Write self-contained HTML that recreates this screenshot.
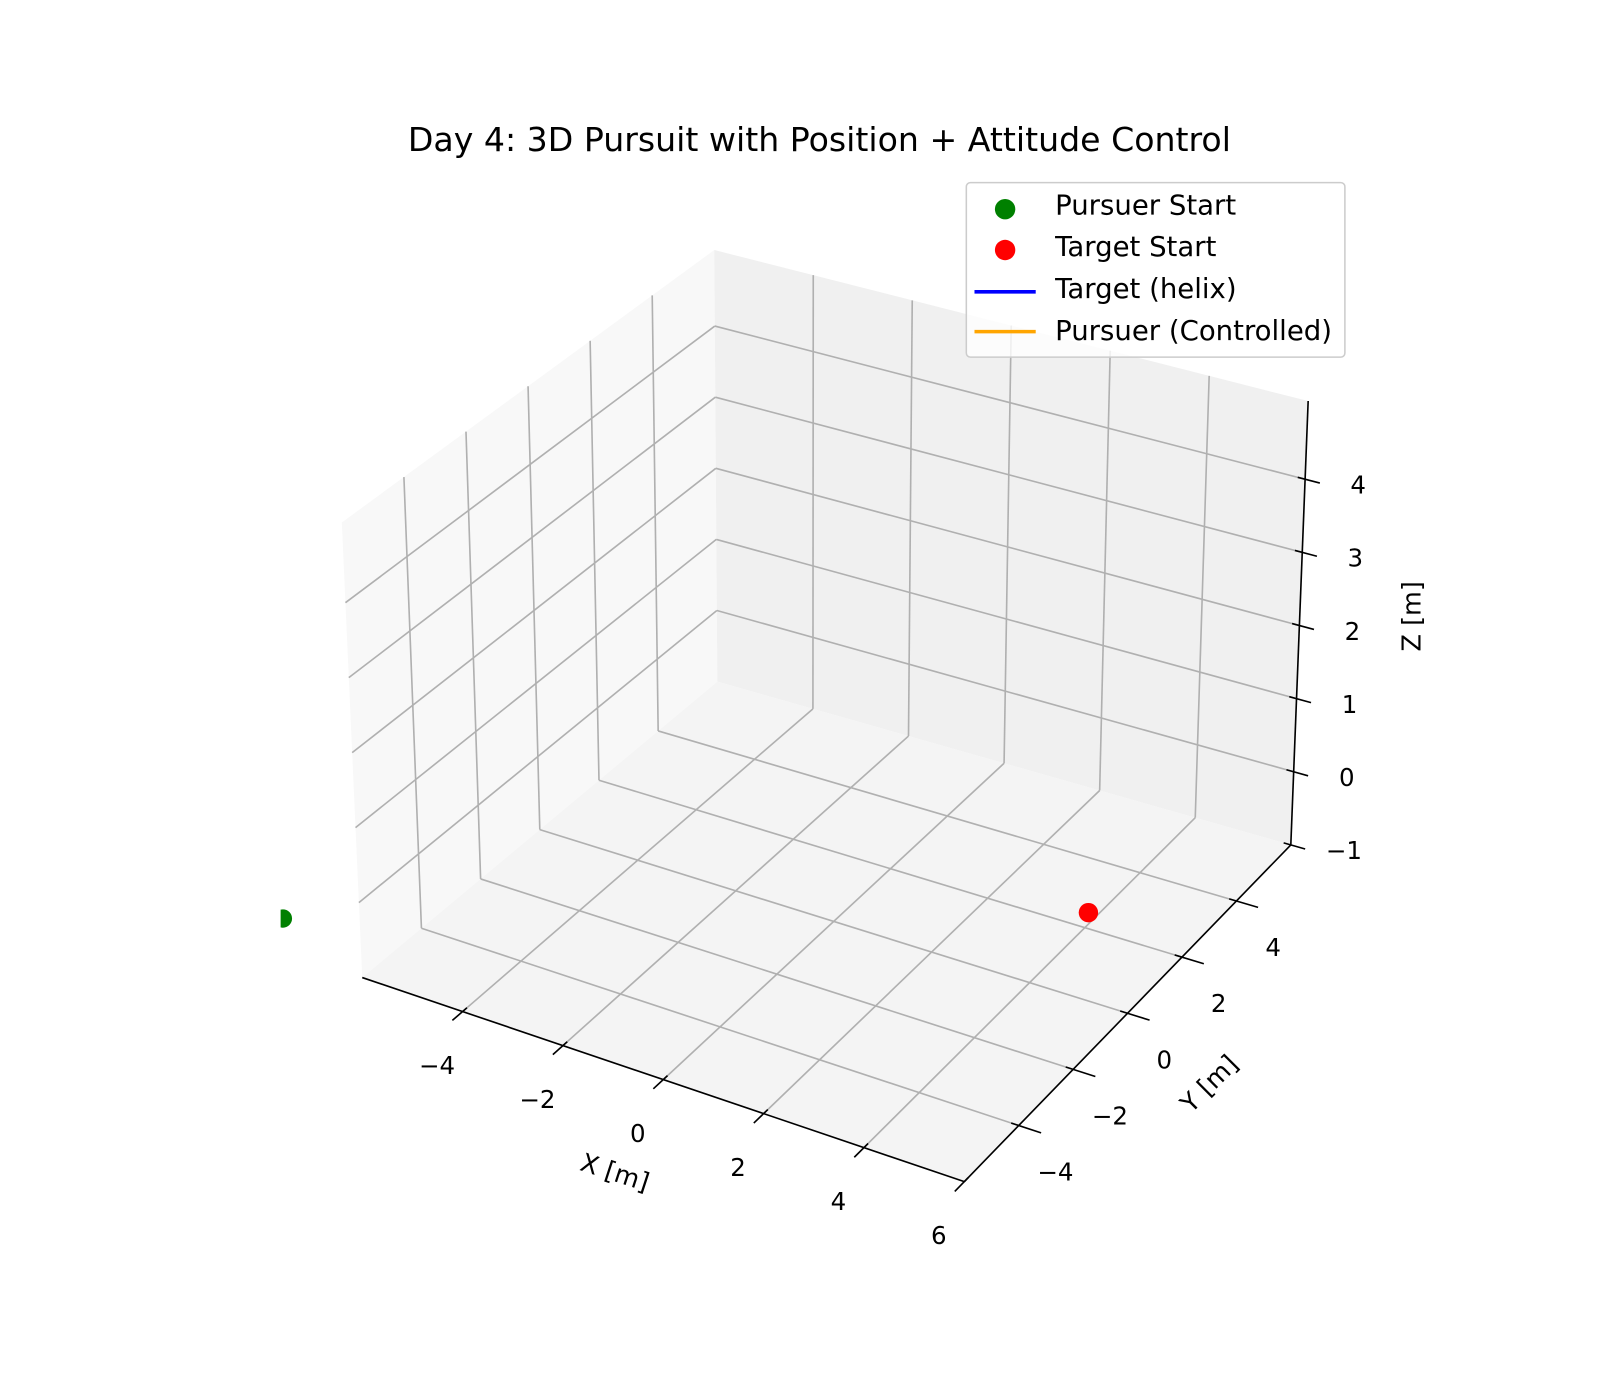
<!DOCTYPE html>
<html><head><meta charset="utf-8"><style>
html,body{margin:0;padding:0;background:#fff}
svg{display:block;font-family:"DejaVu Sans","Liberation Sans",sans-serif}
</style></head><body>
<svg id="chart" width="1600" height="1400" viewBox="0 0 1568 1372">
<rect width="1568" height="1372" fill="#fff"/>
<g id="panes"></g><g id="grid"></g><g id="axes"></g><g id="marks"></g>
<text x="803" y="148" text-anchor="middle" font-size="32.5">Day 4: 3D Pursuit with Position + Attitude Control</text>
<text transform="translate(600,1157) rotate(18)" text-anchor="middle" font-size="25">X [m]</text>
<text transform="translate(1191,1068) rotate(-45)" text-anchor="middle" font-size="25">Y [m]</text>
<text transform="translate(1392,604) rotate(-90)" text-anchor="middle" font-size="25">Z [m]</text>
<g>
<rect x="947" y="179" width="371" height="171" rx="4" fill="#fff" fill-opacity="0.8" stroke="#ccc" stroke-width="1.5"/>
<g><circle cx="985" cy="205" r="10" fill="green"/><text x="1034" y="210" font-size="27">Pursuer Start</text></g>
<g><circle cx="985" cy="245" r="10" fill="red"/><text x="1034" y="251" font-size="27">Target Start</text></g>
<g><line x1="955" y1="286" x2="1015" y2="286" stroke="blue" stroke-width="3.5"/><text x="1034" y="292" font-size="27">Target (helix)</text></g>
<g><line x1="955" y1="325" x2="1015" y2="325" stroke="orange" stroke-width="3.5"/><text x="1034" y="333" font-size="27">Pursuer (Controlled)</text></g>
</g>
</svg>
<script>
const xTicks=[-4,-2,0,2,4,6];
const yTicks=[-4,-2,0,2,4];
const zTicks=[-1,0,1,2,3,4];
const pursuerStart=[-6.8,-7.2,0];
const targetStart=[5.05,0.3,0];
const XR=[-6,6],YR=[-6,6],ZR=[-1,5.07];
const C={"000":[355,958],"100":[945,1158],"110":[1265,828],"010":[703,668],
"001":[335,512],"011":[700,245],"111":[1282,393],"101":[917,660]};
function P(x,y,z){
 const u=(x-XR[0])/(XR[1]-XR[0]),v=(y-YR[0])/(YR[1]-YR[0]),w=(z-ZR[0])/(ZR[1]-ZR[0]);
 let sx=0,sy=0;
 for(const a of [0,1])for(const b of [0,1])for(const c of [0,1]){
  const k=(a?u:1-u)*(b?v:1-v)*(c?w:1-w);const p=C[""+a+b+c];sx+=k*p[0];sy+=k*p[1];}
 return [sx,sy];
}
const NS="http://www.w3.org/2000/svg";
function el(tag,attrs,parent){const e=document.createElementNS(NS,tag);for(const k in attrs)e.setAttribute(k,attrs[k]);document.getElementById(parent).appendChild(e);return e;}
function poly(pts){return pts.map(p=>p.join(",")).join(" ");}
let e;
e=el("polygon",{points:poly([P(-6,-6,-1),P(-6,6,-1),P(-6,6,ZR[1]),P(-6,-6,ZR[1])]),fill:"#f8f8f8"},"panes");


e=el("polygon",{points:poly([P(-6,6,-1),P(6,6,-1),P(6,6,ZR[1]),P(-6,6,ZR[1])]),fill:"#f0f0f0"},"panes");


e=el("polygon",{points:poly([P(-6,-6,-1),P(6,-6,-1),P(6,6,-1),P(-6,6,-1)]),fill:"#f4f4f4"},"panes");


function line(a,b,g,st,sw,name){const l=el("line",{x1:a[0],y1:a[1],x2:b[0],y2:b[1],stroke:st,"stroke-width":sw},g);

return l;}
const GC="#b0b0b0";
xTicks.filter(t=>t<6).forEach(t=>{
 line(P(t,-6,-1),P(t,6,-1),"grid",GC,1.6,"x-gridline-floor");
 line(P(t,6,-1),P(t,6,ZR[1]),"grid",GC,1.6,"x-gridline-wall");
});
yTicks.forEach(t=>{
 line(P(-6,t,-1),P(6,t,-1),"grid",GC,1.6,"y-gridline-floor");
 line(P(-6,t,-1),P(-6,t,ZR[1]),"grid",GC,1.6,"y-gridline-wall");
});
zTicks.filter(t=>t>-1).forEach(t=>{
 line(P(-6,-6,t),P(-6,6,t),"grid",GC,1.6,"z-gridline-left");
 line(P(-6,6,t),P(6,6,t),"grid",GC,1.6,"z-gridline-back");
});
line(P(-6,-6,-1),P(6,-6,-1),"axes","#000",1.6,"x-axis-line");
line(P(6,-6,-1),P(6,6,-1),"axes","#000",1.6,"y-axis-line");
line(P(6,6,-1),P(6,6,ZR[1]),"axes","#000",1.6,"z-axis-line");
function label(p,txt,name){const t=el("text",{x:p[0],y:p[1],"text-anchor":"middle","font-size":24},"axes");t.textContent=txt;

}
const fmt=t=>t<0?"\u2212"+(-t):""+t;
xTicks.forEach(t=>{const a=P(t,-6,-1);line(P(t,-6.35,-1),P(t,-5.85,-1),"axes","#000",1.6,"x-tick");label([a[0]-25,a[1]+61],fmt(t),"x-tick-label");});
yTicks.forEach(t=>{const a=P(6,t,-1);line(P(5.85,t,-1),P(6.45,t,-1),"axes","#000",1.6,"y-tick");label([a[0]+36,a[1]+54],fmt(t),"y-tick-label");});
zTicks.forEach(t=>{const a=P(6,6,t);line(P(5.85,6,t),P(6.3,6,t),"axes","#000",1.6,"z-tick");label([a[0]+52,a[1]+14],fmt(t),"z-tick-label");});
el("clipPath",{id:"clip"},"marks");
const cr=el("rect",{x:275,y:0,width:1300,height:1372},"marks");document.getElementById("clip").appendChild(cr);
const ps=P(...pursuerStart);
e=el("circle",{cx:ps[0],cy:ps[1],r:9,fill:"green","clip-path":"url(#clip)"},"marks");


const ts=P(...targetStart);
e=el("circle",{cx:ts[0],cy:ts[1],r:9.5,fill:"red"},"marks");


</script>
</body></html>
